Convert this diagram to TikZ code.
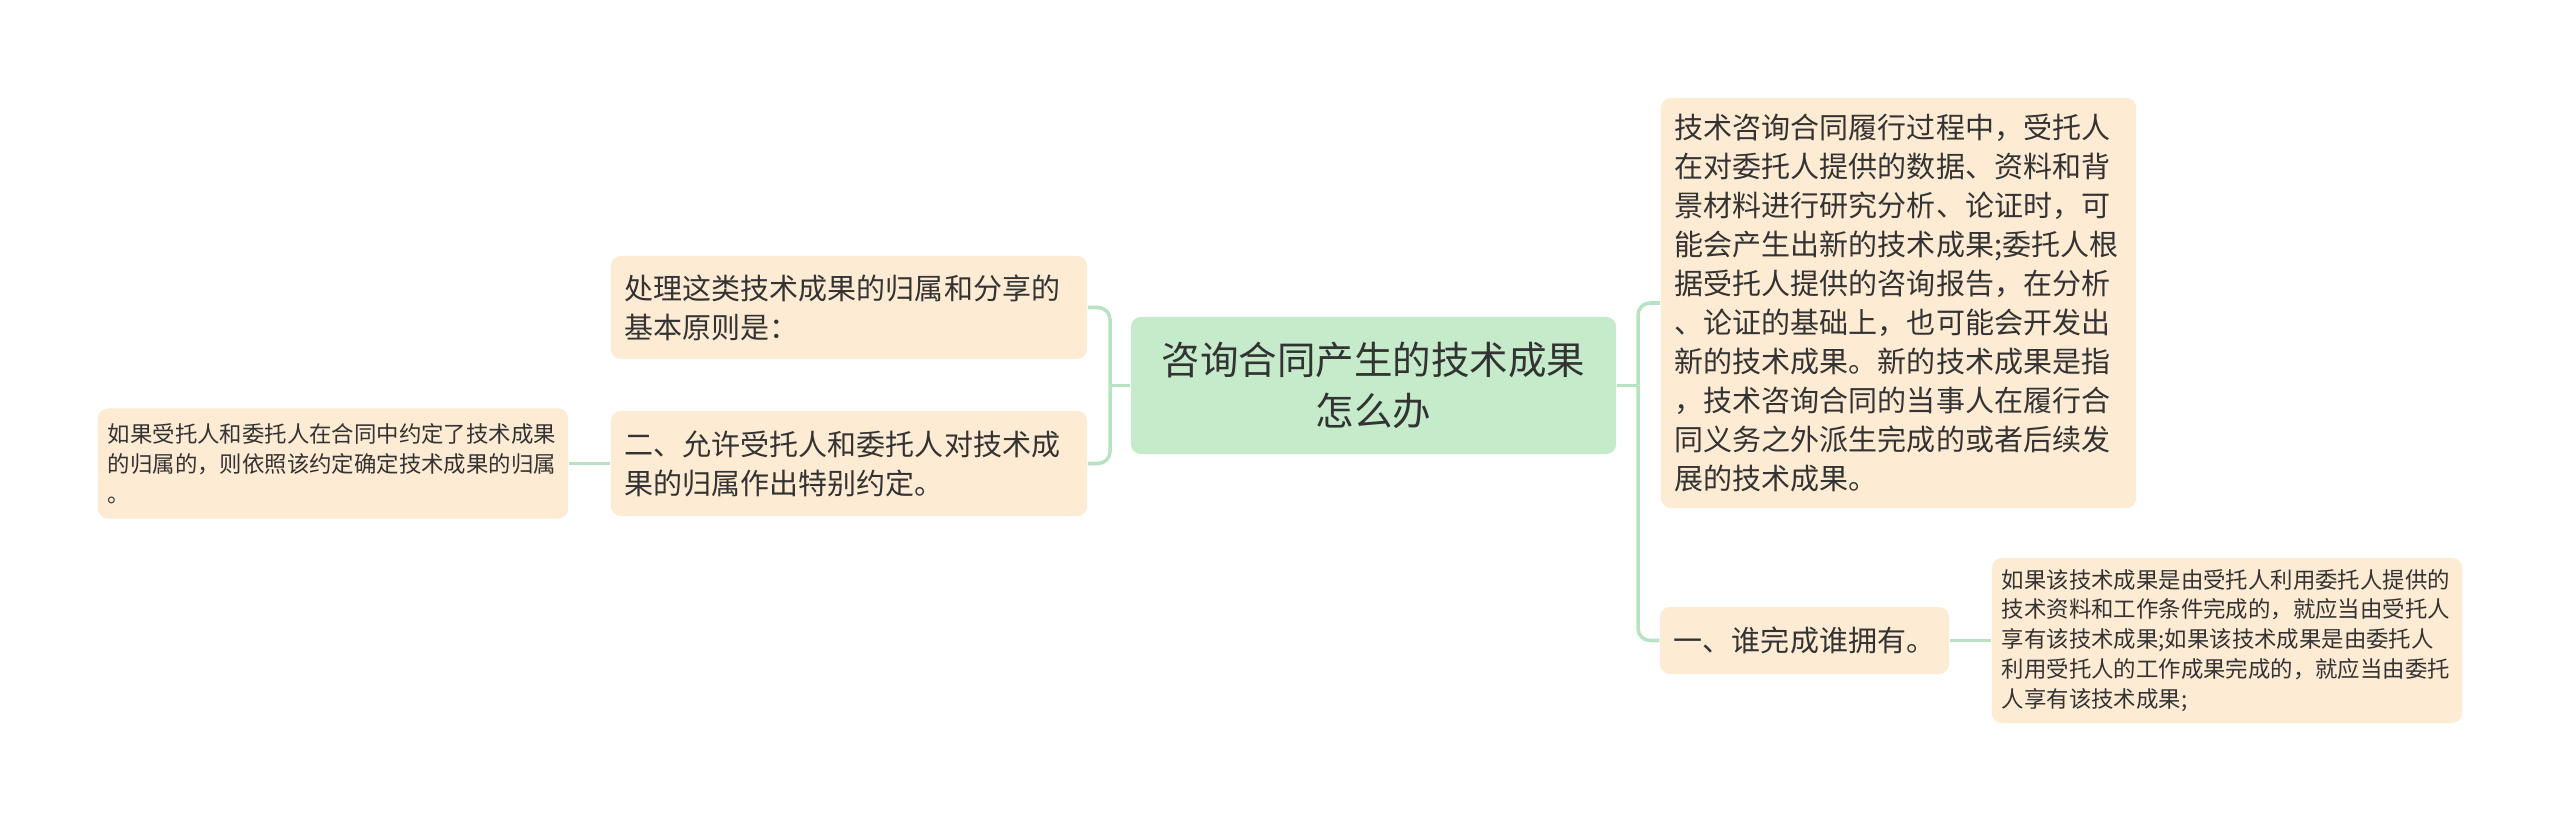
\documentclass[tikz,border=0pt]{standalone}
\usepackage{fontspec}
\setmainfont{Noto Sans CJK SC}
\definecolor{peach}{HTML}{FDEBD4}
\definecolor{mint}{HTML}{C5EBCB}
\definecolor{linkgreen}{HTML}{B8E3C2}
\definecolor{ink}{HTML}{333333}
\newcommand{\rootsize}{\fontsize{10.95pt}{14.5pt}\selectfont}
\newcommand{\midsize}{\fontsize{8.25pt}{11.1pt}\selectfont}
\newcommand{\smallsize}{\fontsize{6.37pt}{8.5pt}\selectfont}
\begin{document}
\begin{tikzpicture}[x=0.01cm, y=-0.01cm,
	box/.style={fill=peach, rounded corners=0.1cm, text=ink, align=left, inner xsep=0.14cm, inner ysep=0},
	link/.style={draw=linkgreen, line width=1pt, rounded corners=0.12cm}]

\fill[white] (0,0) rectangle (2560,822);
\useasboundingbox (0,0) rectangle (2560,822);

% centre
\node[box, fill=mint, align=center, minimum width=4.85cm, minimum height=1.37cm, font=\rootsize] (root) at (1373.5,385.5) {咨询合同产生的技术成果\\怎么办};

% left side
\node[box, text width=4.48cm, minimum height=1.03cm, font=\midsize] (rule) at (849,307.5) {处理这类技术成果的归属和分享的\\基本原则是：};
\node[box, text width=4.48cm, minimum height=1.05cm, font=\midsize] (agree) at (849,463.5) {二、允许受托人和委托人对技术成\\果的归属作出特别约定。};
\node[box, text width=4.5cm, inner xsep=0.1cm, minimum height=1.1cm, font=\smallsize] (agreenote) at (333,463.5) {如果受托人和委托人在合同中约定了技术成果\\的归属的，则依照该约定确定技术成果的归属\\。};

% right side
\node[box, text width=4.47cm, minimum height=4.1cm, font=\midsize] (newres) at (1898.5,303) {技术咨询合同履行过程中，受托人\\在对委托人提供的数据、资料和背\\景材料进行研究分析、论证时，可\\能会产生出新的技术成果;委托人根\\据受托人提供的咨询报告，在分析\\、论证的基础上，也可能会开发出\\新的技术成果。新的技术成果是指\\，技术咨询合同的当事人在履行合\\同义务之外派生完成的或者后续发\\展的技术成果。};
\node[box, minimum height=0.67cm, font=\midsize] (owner) at (1804.5,640.5) {一、谁完成谁拥有。};
\node[box, text width=4.5cm, inner xsep=0.1cm, minimum height=1.65cm, font=\smallsize] (ownernote) at (2227,640.5) {如果该技术成果是由受托人利用委托人提供的\\技术资料和工作条件完成的，就应当由受托人\\享有该技术成果;如果该技术成果是由委托人\\利用受托人的工作成果完成的，就应当由委托\\人享有该技术成果;};

% connectors
\coordinate (jl) at (1110,385.5);
\coordinate (jr) at (1638,385.5);
\draw[link] (root.west) -- (jl);
\draw[link] (jl) |- (rule.east);
\draw[link] (jl) |- (agree.east);
\draw[link] (agree.west) -- (agreenote.east);
\draw[link] (root.east) -- (jr);
\draw[link] (jr) |- (newres.west);
\draw[link] (jr) |- (owner.west);
\draw[link] (owner.east) -- (ownernote.west);

\end{tikzpicture}
\end{document}
